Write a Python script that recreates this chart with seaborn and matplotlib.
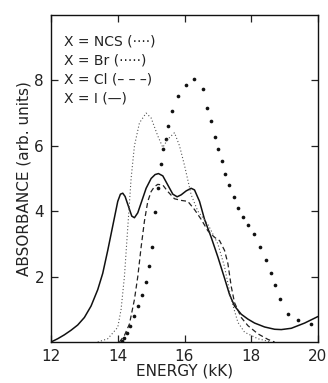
import matplotlib
matplotlib.use('Agg')
import matplotlib.pyplot as plt
import seaborn as sns

# ─────────────────────────────────────────
# DATA
# ─────────────────────────────────────────
i_energy = [12.0, 12.2, 12.4, 12.6, 12.8, 13.0, 13.2, 13.4, 13.55, 13.7, 13.8, 13.9,
            14.0, 14.08, 14.15, 14.22, 14.32, 14.42, 14.5, 14.6, 14.7, 14.85, 15.0,
            15.12, 15.22, 15.35, 15.5, 15.65, 15.78, 15.9, 16.05, 16.2, 16.3, 16.45,
            16.6, 16.8, 17.0, 17.2, 17.35, 17.5, 17.7, 17.9, 18.1, 18.4, 18.7, 18.9,
            19.2, 19.6, 20.0]
i_abs = [0.0, 0.1, 0.22, 0.36, 0.52, 0.75, 1.1, 1.6, 2.1, 2.8, 3.3, 3.8,
         4.3, 4.52, 4.55, 4.45, 4.15, 3.85, 3.8, 3.95, 4.25, 4.7, 5.0,
         5.12, 5.15, 5.08, 4.8, 4.52, 4.44, 4.5, 4.62, 4.7, 4.65, 4.3,
         3.75, 3.2, 2.6, 1.95, 1.45, 1.1, 0.85, 0.7, 0.58, 0.46, 0.39, 0.38,
         0.42, 0.58, 0.78]

br_energy = [13.4, 13.7, 14.0, 14.1, 14.2, 14.3, 14.4, 14.5, 14.65, 14.85, 15.0, 15.2,
             15.35, 15.5, 15.7, 15.85, 16.0, 16.2, 16.4, 16.7, 17.0, 17.2, 17.4, 17.6,
             17.8, 18.2, 18.6]
br_abs = [0.0, 0.1, 0.45, 1.0, 2.0, 3.5, 5.0, 6.0, 6.7, 7.0, 6.85, 6.3,
          5.95, 6.2, 6.4, 6.0, 5.4, 4.5, 4.0, 3.6, 3.0, 2.3, 1.3, 0.6,
          0.3, 0.1, 0.0]

cl_energy = [14.05, 14.2, 14.35, 14.5, 14.6, 14.7, 14.8, 14.9, 15.0, 15.1, 15.2, 15.35,
             15.5, 15.7, 15.9, 16.1, 16.3, 16.5, 16.7, 16.9, 17.05, 17.2, 17.3, 17.4,
             17.5, 17.7, 17.9, 18.2, 18.5, 18.7]
cl_abs = [0.0, 0.2, 0.55, 1.3, 2.0, 2.9, 3.7, 4.3, 4.6, 4.75, 4.82, 4.8,
          4.6, 4.38, 4.33, 4.3, 4.05, 3.75, 3.4, 3.2, 3.1, 2.8, 2.4, 1.7,
          1.2, 0.75, 0.5, 0.25, 0.08, 0.0]

ncs_energy = [14.12, 14.2, 14.28, 14.38, 14.5, 14.62, 14.74, 14.84, 14.94, 15.03, 15.11,
              15.21, 15.3, 15.37, 15.44, 15.52, 15.62, 15.8, 16.04, 16.28, 16.54, 16.66,
              16.79, 16.91, 17.0, 17.11, 17.22, 17.33, 17.47, 17.6, 17.76, 17.91, 18.09,
              18.27, 18.44, 18.59, 18.71, 18.86, 19.1, 19.4, 19.8]
ncs_abs = [0.04, 0.12, 0.27, 0.5, 0.8, 1.1, 1.43, 1.84, 2.31, 2.9, 3.98,
           4.7, 5.45, 5.9, 6.2, 6.6, 7.07, 7.52, 7.85, 8.03, 7.73, 7.17,
           6.77, 6.26, 5.9, 5.52, 5.14, 4.79, 4.42, 4.1, 3.82, 3.59, 3.29,
           2.92, 2.5, 2.11, 1.74, 1.33, 0.87, 0.67, 0.55]

legend_lines = ['X = NCS (····)', 'X = Br (·····)', 'X = Cl (– – –)', 'X = I (—)']
x_ticks = [12, 14, 16, 18, 20]
y_ticks = [2, 4, 6, 8]

# ─────────────────────────────────────────
# PLOT
# ─────────────────────────────────────────
sns.set_style('ticks')
plt.rcParams['font.family'] = ['DejaVu Sans']

fig = plt.figure(figsize=(3.28, 3.83), dpi=100)
ax = fig.add_axes([0.1555, 0.107, 0.814, 0.854])

sns.lineplot(x=i_energy, y=i_abs, ax=ax, color='#111111', linewidth=1.1,
             sort=False, estimator=None)
sns.lineplot(x=cl_energy, y=cl_abs, ax=ax, color='#222222', linewidth=0.9,
             linestyle=(0, (4, 2.5)), sort=False, estimator=None)
sns.lineplot(x=br_energy, y=br_abs, ax=ax, color='#555555', linewidth=0.8,
             linestyle=(0, (1, 2)), sort=False, estimator=None)
sns.scatterplot(x=ncs_energy, y=ncs_abs, ax=ax, color='#111111', s=7,
                linewidth=0, marker='o')

ax.set_xlim(12, 20)
ax.set_ylim(0, 10)
ax.set_xticks(x_ticks)
ax.set_yticks(y_ticks)
ax.tick_params(direction='in', length=5, width=0.9, top=True, right=True,
               labelsize=11, colors='#222222', pad=5)
for sp in ax.spines.values():
    sp.set_linewidth(1.0)
    sp.set_color('#111111')

ax.set_xlabel('ENERGY (kK)', fontsize=11, color='#222222', labelpad=0)
ax.set_ylabel('ABSORBANCE (arb. units)', fontsize=11, color='#222222', labelpad=2)

for k, txt in enumerate(legend_lines):
    ax.text(0.05, 0.92 - k * 0.058, txt, transform=ax.transAxes,
            fontsize=10, color='#222222', va='center', ha='left')

fig.savefig('out.png', dpi=100)
